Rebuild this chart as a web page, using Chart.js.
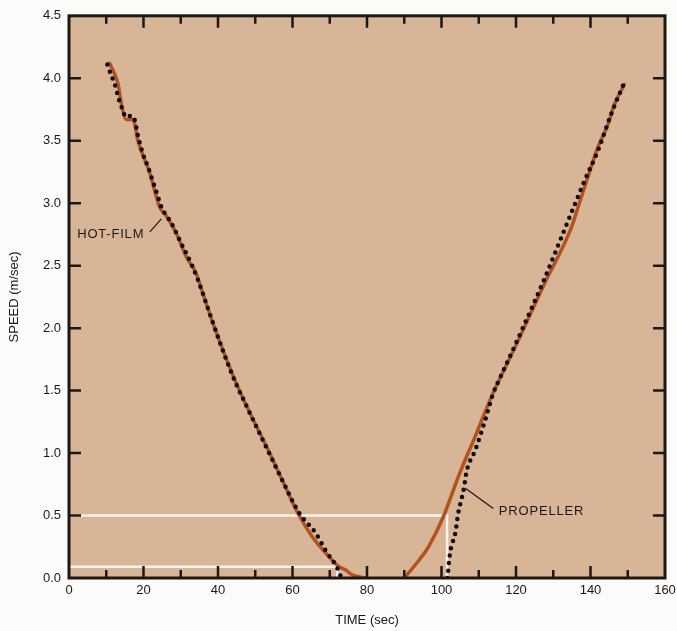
<!DOCTYPE html>
<html>
<head>
<meta charset="utf-8">
<script src="https://cdn.jsdelivr.net/npm/chart.js@4.4.1/dist/chart.umd.min.js"></script>
<style>
    html, body { margin: 0; padding: 0; background: #fbfbfa; }
    #wrap { width: 677px; height: 631px; }
</style>
</head>
<body>
<div id="wrap"><canvas id="chart1" width="677" height="631"></canvas></div>
<script>
/* ---------------------------------------------------------------- */
/* DATA                                                             */
/* ---------------------------------------------------------------- */

    // hot-film trace (time in sec, speed in m/sec), null = off the axis
    var hotFilmTime  = [10.9, 12.3, 13.2, 14.1, 15.4, 17.2, 18.5, 21.7, 24.3, 26.1, 28.8, 31.5, 34.1, 35.9, 39.0, 43.9, 48.4, 52.9, 57.3, 61.8, 65.3, 68.9, 72.5, 74.3, 76.0, 78.7, 80.0,
                        85.0,
                        90.0, 93.9, 96.5, 100.5, 104.5, 109.0, 113.4, 120.6, 127.7, 134.8, 137.0, 139.3, 142.0, 144.7, 146.4, 149.1];
    var hotFilmSpeed = [4.12, 4.03, 3.95, 3.79, 3.67, 3.67, 3.50, 3.24, 2.97, 2.90, 2.76, 2.57, 2.44, 2.28, 2.01, 1.63, 1.33, 1.06, 0.78, 0.50, 0.33, 0.20, 0.09, 0.064, 0.025, 0.005, 0,
                        null,
                        0, 0.14, 0.25, 0.49, 0.81, 1.13, 1.45, 1.90, 2.36, 2.80, 3.00, 3.21, 3.45, 3.63, 3.79, 3.95];

    // propeller trace
    var propTime  = [10.3, 11.0, 12.3, 13.4, 14.5, 15.2, 16.8, 17.6, 18.5, 19.9, 21.2, 23.9, 24.8, 27.5, 30.1, 33.2, 35.9, 36.8, 43.9, 48.4, 52.9, 57.3, 61.8, 66.2, 68.9, 72.0, 72.9, 73.2,
                     88.0,
                     101.6, 102.3, 103.7, 104.5, 105.9, 106.8, 109.0, 111.7, 113.9, 115.7, 120.6, 127.7, 134.0, 138.4, 142.0, 145.5, 148.7];
    var propSpeed = [4.11, 4.05, 3.95, 3.83, 3.74, 3.69, 3.70, 3.67, 3.54, 3.39, 3.29, 3.05, 2.97, 2.84, 2.68, 2.49, 2.28, 2.20, 1.62, 1.33, 1.05, 0.78, 0.52, 0.36, 0.22, 0.08, 0.016, 0,
                     null,
                     0, 0.20, 0.36, 0.52, 0.70, 0.86, 1.02, 1.26, 1.48, 1.60, 1.92, 2.40, 2.86, 3.18, 3.42, 3.71, 3.94];

    // white reference lines
    var refHighTime  = [0, 101.5, 101.5];
    var refHighSpeed = [0.5, 0.5, 0];
    var refLowTime   = [0, 72.0, 72.0];
    var refLowSpeed  = [0.09, 0.09, 0];

    // axis ticks
    var xTickValues = [0, 20, 40, 60, 80, 100, 120, 140, 160];
    var yTickValues = [0, 0.5, 1.0, 1.5, 2.0, 2.5, 3.0, 3.5, 4.0, 4.5];

/* ---------------------------------------------------------------- */
/* HELPERS                                                          */
/* ---------------------------------------------------------------- */

    function pairs(xs, ys){
        var out = [];
        for(let i = 0; i < xs.length; i++){
            out.push({ x: xs[i], y: ys[i] });
        }
        return out;
    }

    var FONT = '"Liberation Sans", Arial, Helvetica, sans-serif';
    var INK  = '#1b1917';

    // tan plot background, frame with inward ticks, text labels
    var framePlugin = {
        id: 'frame',
        beforeDraw: function(chart){
            var a = chart.chartArea, ctx = chart.ctx;
            ctx.save();
            ctx.fillStyle = '#d8b597';
            ctx.fillRect(a.left, a.top, a.right - a.left, a.bottom - a.top);
            ctx.restore();
        },
        afterDatasetsDraw: function(chart){
            var a = chart.chartArea, ctx = chart.ctx;
            var xs = chart.scales.x, ys = chart.scales.y;
            ctx.save();
            ctx.strokeStyle = INK;

            // ticks
            ctx.lineWidth = 2.5;
            ctx.beginPath();
            for(let v = xs.min + 10; v < xs.max; v += 10){
                var px = xs.getPixelForValue(v);
                var len = (v % 20 === 0) ? 12 : 8;
                ctx.moveTo(px, a.bottom); ctx.lineTo(px, a.bottom - len);
                ctx.moveTo(px, a.top);    ctx.lineTo(px, a.top + len);
            }
            for(let i = 1; i < yTickValues.length - 1; i++){
                var py = ys.getPixelForValue(yTickValues[i]);
                ctx.moveTo(a.left, py);  ctx.lineTo(a.left + 12, py);
                ctx.moveTo(a.right, py); ctx.lineTo(a.right - 12, py);
            }
            ctx.stroke();

            // frame
            ctx.lineWidth = 3;
            ctx.strokeRect(a.left, a.top, a.right - a.left, a.bottom - a.top);

            // labels + leaders
            ctx.fillStyle = INK;
            ctx.font = '13px ' + FONT;
            if('letterSpacing' in ctx) ctx.letterSpacing = '0.8px';
            ctx.textBaseline = 'middle';
            ctx.textAlign = 'left';
            ctx.fillText('HOT-FILM', xs.getPixelForValue(2.2), ys.getPixelForValue(2.75));
            ctx.fillText('PROPELLER', xs.getPixelForValue(115.4), ys.getPixelForValue(0.53));

            ctx.lineWidth = 1.2;
            ctx.beginPath();
            ctx.moveTo(xs.getPixelForValue(21.7), ys.getPixelForValue(2.77));
            ctx.lineTo(xs.getPixelForValue(24.8), ys.getPixelForValue(2.875));
            ctx.moveTo(xs.getPixelForValue(106.5), ys.getPixelForValue(0.717));
            ctx.lineTo(xs.getPixelForValue(113.9), ys.getPixelForValue(0.557));
            ctx.stroke();
            ctx.restore();
        }
    };

/* ---------------------------------------------------------------- */
/* CHART                                                            */
/* ---------------------------------------------------------------- */

    var ctx = document.getElementById('chart1').getContext('2d');
    var chart1 = new Chart(ctx, {
        type: 'line',
        data: {
            datasets: [{
                label: 'PROPELLER',
                data: pairs(propTime, propSpeed),
                borderColor: '#0e0c0b',
                borderWidth: 4.5,
                borderDash: [0, 7.5],
                borderCapStyle: 'round',
                cubicInterpolationMode: 'monotone',
                pointRadius: 0,
                fill: false,
                order: 1
            },{
                label: 'HOT-FILM',
                data: pairs(hotFilmTime, hotFilmSpeed),
                borderColor: '#b4521f',
                borderWidth: 3.5,
                borderCapStyle: 'round',
                cubicInterpolationMode: 'monotone',
                pointRadius: 0,
                fill: false,
                order: 2
            },{
                label: 'ref 0.5',
                data: pairs(refHighTime, refHighSpeed),
                borderColor: '#f7f3ee',
                borderWidth: 2.5,
                tension: 0,
                pointRadius: 0,
                fill: false,
                order: 3
            },{
                label: 'ref low',
                data: pairs(refLowTime, refLowSpeed),
                borderColor: '#f7f3ee',
                borderWidth: 2.5,
                tension: 0,
                pointRadius: 0,
                fill: false,
                order: 3
            }]
        },
        options: {
            responsive: false,
            animation: false,
            layout: { padding: { top: 15, right: 12, left: 0, bottom: 0 } },
            plugins: {
                legend: { display: false },
                tooltip: { enabled: false }
            },
            scales: {
                x: {
                    type: 'linear',
                    min: 0, max: 160,
                    afterFit: function(scale){
                        scale.height = 53;
                        scale.paddingRight = 0;
                    },
                    afterBuildTicks: function(scale){
                        scale.ticks = xTickValues.map(function(v){ return { value: v }; });
                    },
                    grid: { display: false, drawTicks: false },
                    border: { display: false },
                    ticks: {
                        padding: 5,
                        maxRotation: 0,
                        autoSkip: false,
                        color: INK,
                        font: { family: FONT, size: 13 },
                        callback: function(v){ return String(v); }
                    },
                    title: {
                        display: true,
                        text: 'TIME (sec)',
                        color: INK,
                        padding: { top: 4, bottom: 3 },
                        font: { family: FONT, size: 13 }
                    }
                },
                y: {
                    min: 0, max: 4.5,
                    afterFit: function(scale){ scale.width = 69; },
                    afterBuildTicks: function(scale){
                        scale.ticks = yTickValues.map(function(v){ return { value: v }; });
                    },
                    grid: { display: false, drawTicks: false },
                    border: { display: false },
                    ticks: {
                        padding: 8,
                        autoSkip: false,
                        color: INK,
                        font: { family: FONT, size: 13 },
                        callback: function(v){ return Number(v).toFixed(1); }
                    },
                    title: {
                        display: true,
                        text: 'SPEED (m/sec)',
                        color: INK,
                        padding: { top: 7, bottom: 4 },
                        font: { family: FONT, size: 13 }
                    }
                }
            }
        },
        plugins: [framePlugin]
    });
</script>
</body>
</html>
